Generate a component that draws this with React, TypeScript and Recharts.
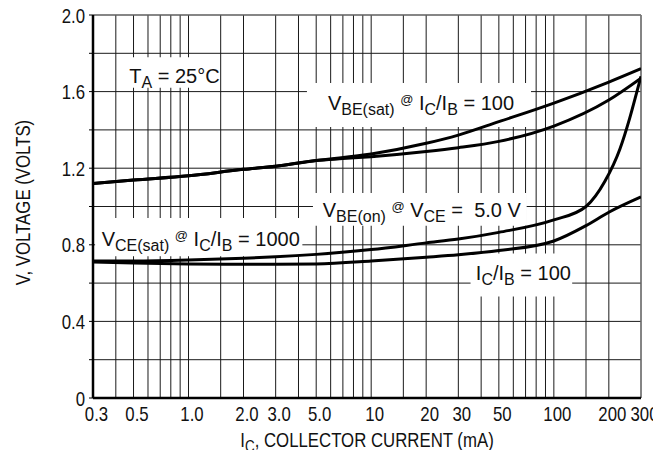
import React from 'react';
import {
  LineChart,
  Line,
  XAxis,
  YAxis,
  CartesianGrid,
  ReferenceArea,
  ReferenceLine,
} from 'recharts';

const FONT = "'Liberation Sans', Arial, sans-serif";
const SQUEEZE = 0.84; // axis text in the datasheet is a condensed face

// grid lines (log x, linear y) and the labelled subset
const xGrid = [
  0.3, 0.4, 0.5, 0.6, 0.7, 0.8, 0.9, 1, 1.5, 2, 3, 4, 5, 6, 7, 8, 9, 10, 15, 20, 30, 40, 50, 60, 70,
  80, 90, 100, 150, 200, 300,
];
const xLabelValues = [0.3, 0.5, 1, 2, 3, 5, 10, 20, 30, 50, 100, 200, 300];
const xLabelText = ['0.3', '0.5', '1.0', '2.0', '3.0', '5.0', '10', '20', '30', '50', '100', '200', '300'];
const yGrid = [0, 0.2, 0.4, 0.6, 0.8, 1.0, 1.2, 1.4, 1.6, 1.8, 2.0];
const yLabelValues = [0, 0.4, 0.8, 1.2, 1.6, 2.0];
const yLabelText = ['0', '0.4', '0.8', '1.2', '1.6', '2.0'];

// VBE(sat) @ IC/IB = 100
const vbeSatI = [0.3, 0.5, 1, 2, 3, 5, 10, 20, 30, 50, 100, 200, 300];
const vbeSatV = [1.12, 1.138, 1.16, 1.194, 1.21, 1.24, 1.274, 1.33, 1.373, 1.443, 1.54, 1.65, 1.72];

// VBE(on) @ VCE = 5.0 V
const vbeOnI = [0.3, 0.5, 1, 2, 3, 5, 7, 10, 20, 30, 50, 100, 200, 300];
const vbeOnV = [1.12, 1.138, 1.16, 1.194, 1.21, 1.24, 1.25, 1.26, 1.287, 1.307, 1.34, 1.42, 1.556, 1.67];

// VCE(sat) @ IC/IB = 1000
const vce1000I = [0.3, 0.5, 1, 2, 3, 5, 10, 20, 30, 50, 100, 150, 190, 230, 260, 285, 300];
const vce1000V = [0.715, 0.715, 0.72, 0.73, 0.737, 0.75, 0.775, 0.81, 0.83, 0.865, 0.93, 1.0, 1.13, 1.3, 1.46, 1.6, 1.68];

// VCE(sat) @ IC/IB = 100
const vce100I = [0.3, 0.5, 1, 2, 3, 5, 10, 20, 30, 50, 100, 150, 200, 300];
const vce100V = [0.71, 0.705, 0.7, 0.698, 0.698, 0.7, 0.715, 0.735, 0.748, 0.77, 0.82, 0.9, 0.97, 1.05];

const toPoints = (xs: number[], ys: number[]) => xs.map((i, k) => ({ i, v: ys[k] }));

const series = [
  toPoints(vbeSatI, vbeSatV),
  toPoints(vbeOnI, vbeOnV),
  toPoints(vce1000I, vce1000V),
  toPoints(vce100I, vce100V),
];

type Seg = { t: string; sub?: boolean; sup?: boolean };

// white boxes with the curve captions, in data coordinates
const notes: { x1: number; x2: number; y1: number; y2: number; base: number; segs: Seg[] }[] = [
  {
    x1: 0.46, x2: 1.45, y1: 1.62, y2: 1.78, base: 26,
    segs: [{ t: 'T' }, { t: 'A', sub: true }, { t: ' = 25°C' }],
  },
  {
    x1: 4.45, x2: 75, y1: 1.415, y2: 1.645, base: 27,
    segs: [
      { t: 'V' }, { t: 'BE(sat)', sub: true }, { t: ' ' }, { t: '@', sup: true }, { t: ' I' },
      { t: 'C', sub: true }, { t: '/I' }, { t: 'B', sub: true }, { t: ' = 100' },
    ],
  },
  {
    x1: 4.8, x2: 71, y1: 0.9, y2: 1.07, base: 24,
    segs: [
      { t: 'V' }, { t: 'BE(on)', sub: true }, { t: ' ' }, { t: '@', sup: true }, { t: ' V' },
      { t: 'CE', sub: true }, { t: ' =  5.0 V' },
    ],
  },
  {
    x1: 0.308, x2: 4.2, y1: 0.74, y2: 0.94, base: 28,
    segs: [
      { t: 'V' }, { t: 'CE(sat)', sub: true }, { t: ' ' }, { t: '@', sup: true }, { t: ' I' },
      { t: 'C', sub: true }, { t: '/I' }, { t: 'B', sub: true }, { t: ' = 1000' },
    ],
  },
  {
    x1: 35, x2: 126, y1: 0.53, y2: 0.755, base: 27,
    segs: [{ t: 'I' }, { t: 'C', sub: true }, { t: '/I' }, { t: 'B', sub: true }, { t: ' = 100' }],
  },
];

function renderSegs(segs: Seg[], size: number) {
  let shift = 0;
  return segs.map((s, k) => {
    const target = s.sub ? 5 : s.sup ? -6 : 0;
    const dy = target - shift;
    shift = target;
    return (
      <tspan key={k} dy={dy} fontSize={s.sub ? size * 0.8 : s.sup ? size * 0.65 : size}>
        {s.t}
      </tspan>
    );
  });
}

// condensed text: scale horizontally around the anchor point
function Squeezed({ x, y, anchor, rotate = 0, children }: any) {
  return (
    <g transform={`translate(${x},${y}) rotate(${rotate}) scale(${SQUEEZE},1)`}>
      <text x={0} y={0} textAnchor={anchor} fontSize={20} fontFamily={FONT} fill="#111" style={{ whiteSpace: 'pre' }}>
        {children}
      </text>
    </g>
  );
}

function NoteLabel(props: any, note: (typeof notes)[number]) {
  const vb = props.viewBox || {};
  return (
    <text
      x={vb.x + vb.width / 2 + 2}
      y={vb.y + note.base}
      textAnchor="middle"
      fill="#111"
      fontFamily={FONT}
      style={{ whiteSpace: 'pre' }}
    >
      {renderSegs(note.segs, 20)}
    </text>
  );
}

function labelFor(list: number[], text: string[], v: number) {
  const k = list.findIndex((x) => Math.abs(x - v) < 1e-9);
  return k < 0 ? null : text[k];
}

function XTick(props: any) {
  const txt = labelFor(xLabelValues, xLabelText, props.payload.value);
  if (!txt) return <g />;
  return (
    <Squeezed x={props.x + 3.5} y={props.y + 22.5} anchor="middle">
      {txt}
    </Squeezed>
  );
}

function YTick(props: any) {
  const txt = labelFor(yLabelValues, yLabelText, props.payload.value);
  if (!txt) return <g />;
  return (
    <Squeezed x={props.x} y={props.y + 7.5} anchor="end">
      {txt}
    </Squeezed>
  );
}

function XTitle(props: any) {
  const vb = props.viewBox || {};
  return (
    <Squeezed x={vb.x + vb.width / 2} y={vb.y + 49} anchor="middle">
      {renderSegs([{ t: 'I' }, { t: 'C', sub: true }, { t: ', COLLECTOR CURRENT (mA)' }], 20)}
    </Squeezed>
  );
}

function YTitle(props: any) {
  const vb = props.viewBox || {};
  return (
    <Squeezed x={vb.x + 30} y={vb.y + vb.height / 2 - 4} anchor="middle" rotate={-90}>
      V, VOLTAGE (VOLTS)
    </Squeezed>
  );
}

export default function App() {
  return (
    <div style={{ width: 661, height: 458, margin: -8, background: '#fff' }}>
      <LineChart width={661} height={458} margin={{ top: 15, right: 20, bottom: 0, left: 0 }}>
        <CartesianGrid stroke="#1a1a1a" strokeWidth={1} />
        <XAxis
          type="number"
          dataKey="i"
          scale="log"
          domain={[0.3, 300]}
          ticks={xGrid}
          interval={0}
          allowDataOverflow
          height={60}
          tickSize={0}
          tickMargin={0}
          tickLine={false}
          axisLine={{ stroke: '#000', strokeWidth: 2.5 }}
          tick={XTick}
          label={XTitle}
        />
        <YAxis
          type="number"
          dataKey="v"
          domain={[0, 2]}
          ticks={yGrid}
          interval={0}
          allowDataOverflow
          width={93}
          tickSize={4}
          tickMargin={4}
          tickLine={{ stroke: '#000', strokeWidth: 1 }}
          axisLine={{ stroke: '#000', strokeWidth: 2.5 }}
          tick={YTick}
          label={YTitle}
        />
        <ReferenceLine y={2} stroke="#808080" strokeWidth={1.2} />
        <ReferenceLine x={300} stroke="#808080" strokeWidth={1.2} />
        {notes.map((n, k) => (
          <ReferenceArea
            key={k}
            x1={n.x1}
            x2={n.x2}
            y1={n.y1}
            y2={n.y2}
            fill="#fff"
            fillOpacity={1}
            stroke="none"
            label={(p: any) => NoteLabel(p, n)}
          />
        ))}
        {series.map((d, k) => (
          <Line
            key={k}
            data={d}
            dataKey="v"
            type="monotone"
            stroke="#000"
            strokeWidth={3}
            dot={false}
            activeDot={false}
            isAnimationActive={false}
          />
        ))}
      </LineChart>
    </div>
  );
}
